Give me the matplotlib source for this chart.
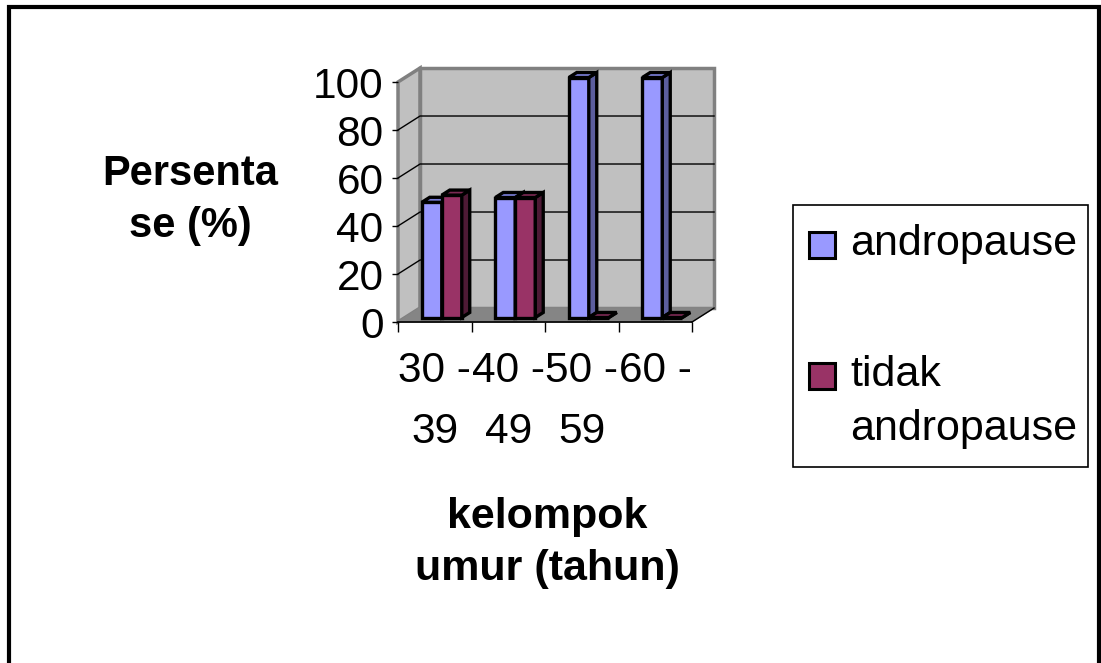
import numpy as np
import matplotlib.pyplot as plt
from matplotlib.patches import Polygon, Rectangle

# data
categories = ['30 -\n39', '40 -\n49', '50 -\n59', '60 -']
andropause = [48, 50, 100, 100]
tidak_andropause = [51, 50, 0, 0]
series_names = ['andropause', 'tidak\nandropause']
y_ticks = [0, 20, 40, 60, 80, 100]

plt.rcParams['font.family'] = ['Liberation Sans', 'DejaVu Sans']

W, H = 1101, 663
fig = plt.figure(figsize=(W / 100, H / 100), dpi=100)


def fx(x):
    return x / W


def fy(y):
    return 1 - y / H


# axes = front plane of the 3d plot box
ax = fig.add_axes([fx(398), fy(322), (692 - 398) / W, (322 - 82) / H])
ax.set_xlim(0, len(categories))
ax.set_ylim(0, 100)
ax.patch.set_visible(False)
for s in ['top', 'right', 'left']:
    ax.spines[s].set_visible(False)
ax.spines['bottom'].set_linewidth(1.2)

n = len(categories)
DX = 0.30   # depth of the box, category units
DY = 5.83   # depth of the box, value units

# walls and floor
wall = dict(facecolor='#c0c0c0', edgecolor='#808080', lw=2.5, clip_on=False, zorder=0)
ax.add_patch(Polygon([(0, 0), (0, 100), (DX, 100 + DY), (DX, DY)], **wall))
ax.add_patch(Polygon([(DX, DY), (n + DX, DY), (n + DX, 100 + DY), (DX, 100 + DY)], **wall))
ax.add_patch(Polygon([(0, 0), (n, 0), (n + DX, DY), (DX, DY)], facecolor='#858585',
                     edgecolor='#858585', lw=1, clip_on=False, zorder=0.5))
ax.plot([n, n + DX], [0, DY], color='black', lw=1, clip_on=False, zorder=0.6)

# gridlines on side and back wall
for v in y_ticks[1:-1]:
    ax.plot([0, DX, n + DX], [v, v + DY, v + DY], color='black', lw=1,
            clip_on=False, zorder=1)

# bars
bw = 0.272
f0, f1 = 0.32, 0.68
ddx, ddy = (f1 - f0) * DX, (f1 - f0) * DY
colors = [('#9999ff', '#7b7fd8', '#5c5e9e'), ('#993366', '#7a2952', '#4e1a35')]
x = np.arange(n)
for j, vals in enumerate([andropause, tidak_andropause]):
    front, top, side = colors[j]
    left = x + 0.5 - bw + j * bw + f0 * DX
    bars = ax.bar(left, vals, width=bw, bottom=f0 * DY, align='edge',
                  color=front, edgecolor='black', lw=2.4, clip_on=False)
    for i, (b, v) in enumerate(zip(bars, vals)):
        z = 2 + 2 * i + j
        b.set_zorder(z)
        x0, x1 = left[i], left[i] + bw
        y0, y1 = f0 * DY, f0 * DY + v
        ax.add_patch(Polygon([(x1, y0), (x1 + ddx, y0 + ddy), (x1 + ddx, y1 + ddy), (x1, y1)],
                             facecolor=side, edgecolor='black', lw=2.4, clip_on=False, zorder=z))
        ax.add_patch(Polygon([(x0, y1), (x1, y1), (x1 + ddx, y1 + ddy), (x0 + ddx, y1 + ddy)],
                             facecolor=top, edgecolor='black', lw=2.4, clip_on=False, zorder=z))

# ticks
ax.set_yticks(y_ticks)
ax.tick_params(axis='y', direction='out', length=4.5, width=1, pad=6, labelsize=30.5)
ax.set_xticks(range(n + 1))
ax.set_xticklabels([])
ax.tick_params(axis='x', which='major', direction='out', length=7, width=1)
ax.set_xticks(x + 0.5, categories, minor=True)
ax.tick_params(axis='x', which='minor', length=0, pad=21, labelsize=30.5)
for lbl in ax.get_xticklabels(minor=True):
    lbl.set_linespacing(1.68)

# axis titles
fig.text(fx(190), fy(154), 'Persenta\nse (%)', ha='center', va='top', ma='center',
         fontsize=30, fontweight='bold', linespacing=1.38)
fig.text(fx(547), fy(497), 'kelompok\numur (tahun)', ha='center', va='top', ma='center',
         fontsize=31, fontweight='bold', linespacing=1.4)

# legend
fig.add_artist(Rectangle((fx(793), fy(467)), (1088 - 793) / W, (467 - 205) / H,
                         transform=fig.transFigure, fill=False, ec='black', lw=1.2))
for k, (name, ytop) in enumerate(zip(series_names, [232, 363])):
    fig.add_artist(Rectangle((fx(809), fy(ytop + 26)), 26 / W, 26 / H,
                             transform=fig.transFigure, fc=colors[k][0], ec='black', lw=2.2))
    fig.text(fx(850), fy(ytop - 8), name, ha='left', va='top', fontsize=31,
             linespacing=1.45)

# outer frame
fig.add_artist(Rectangle((fx(9), fy(720)), (1098.5 - 9) / W, (720 - 7) / H,
                         transform=fig.transFigure, fill=False, ec='black', lw=3))

fig.savefig('out.png', dpi=100)
